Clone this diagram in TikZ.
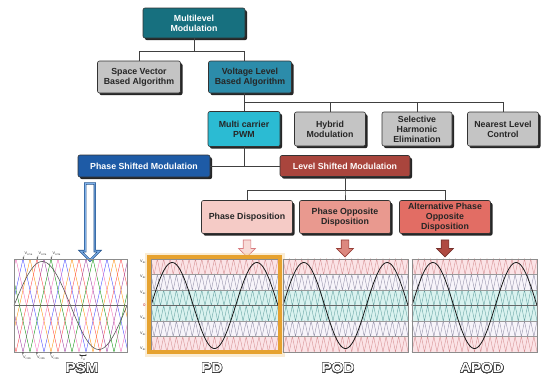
\documentclass[tikz,border=0pt]{standalone}
\usepackage{fontspec}
\setmainfont{Liberation Sans}
\newfontfamily\labfont{Liberation Sans}[FakeStretch=1.12]
\usepackage{contour}
\contourlength{0.45pt}
\contournumber{24}
\usetikzlibrary{arrows.meta,positioning,shapes.arrows,shadows,calc}
\usepackage{xcolor}
\definecolor{mltop}{HTML}{17707F}
\definecolor{vlbox}{HTML}{2C8CAA}
\definecolor{mcbox}{HTML}{2BBBD3}
\definecolor{graybox}{HTML}{C4C4C4}
\definecolor{psmblue}{HTML}{1E5BA6}
\definecolor{psmlight}{HTML}{7FB0E8}
\definecolor{lsmred}{HTML}{A9453D}
\definecolor{pdpink}{HTML}{F5CBC6}
\definecolor{podpink}{HTML}{E9998F}
\definecolor{apodred}{HTML}{E26D64}
\definecolor{framegold}{HTML}{E6A22F}
\definecolor{bandpink}{HTML}{FBE3E6}
\definecolor{bandlav}{HTML}{F7F4FA}
\definecolor{bandcyan}{HTML}{D9F2EF}
\definecolor{tripink}{HTML}{D48A8E}
\definecolor{trilav}{HTML}{8C8AA3}
\definecolor{tricyan}{HTML}{5E9E9E}

% small voltage symbol with subscript
\newcommand{\vsub}[1]{V\raisebox{-0.6pt}{\fontsize{2.6}{3}\selectfont #1}}

\tikzset{
  box/.style={draw=black!80, rounded corners=2pt, line width=0.6pt, align=center, inner sep=1pt,
    font=\fontsize{8.8}{10}\selectfont\bfseries, text=black!85,
    drop shadow={shadow xshift=2pt, shadow yshift=-2.2pt, fill=black!85, opacity=1}},
  conn/.style={draw=black!75, line width=0.7pt},
  downarrow/.style={single arrow, rotate=-90, minimum height=17pt, inner xsep=0pt, inner ysep=3.5pt,
    single arrow head extend=4.5pt, line width=0.7pt},
  carrier/.style={line width=0.35pt},
  levelline/.style={draw=black!40, line width=0.4pt},
  zeroline/.style={draw=black!60, line width=0.6pt},
  sinewave/.style={draw=black!90, line width=0.8pt},
  plotframe/.style={draw=black!45, line width=0.5pt},
  tinylab/.style={font=\fontsize{3.8}{4.5}\selectfont, inner sep=0.3pt, text=black!80},
  tinyarr/.style={-{Stealth[length=1.6pt,width=1.4pt]}, line width=0.3pt, black!80},
  biglabel/.style={font=\labfont\bfseries\fontsize{13.5}{13.5}\selectfont, inner sep=0pt, text=white}
}

% one level shifted panel: left x, width, phase of the six bands
\newcommand{\lspanel}[3]{%
  \foreach \i/\bg/\tc in {0/bandpink/tripink,1/bandlav/trilav,2/bandcyan/tricyan,3/bandcyan/tricyan,4/bandlav/trilav,5/bandpink/tripink}{
    \pgfmathsetmacro\ph{{#3}[\i]}
    \pgfmathsetmacro\ytop{259+15.5*\i}
    \pgfmathsetmacro\ystart{\ph>0 ? \ytop : \ytop+15.5}
    \pgfmathsetmacro\amp{(\ph)*15.5}
    \pgfmathsetmacro\ampn{-1*(\ph)*15.5}
    \fill[\bg] (#1,\ytop) rectangle ++(#2,15.5);
    \draw[carrier,\tc] (#1,\ystart) \foreach \k in {1,...,20}{ -- ++(#2/40,\amp) -- ++(#2/40,\ampn) };
  }
  \foreach \i in {1,2,4,5} \draw[levelline] (#1,{259+15.5*\i}) -- ++(#2,0);
  \draw[zeroline] (#1,305.5) -- ++(#2,0);
  \draw[sinewave] plot[domain=0:#2,samples=90] ({#1+\x},{305.5-43*sin((\x/#2)*540)});
  \draw[plotframe] (#1,259) rectangle ++(#2,93);
}

\begin{document}
\begin{tikzpicture}[x=1pt,y=-1pt]
  \fill[white] (0,0) rectangle (550,383);
  \useasboundingbox (0,0) rectangle (550,383);

  % classification tree
  \node[box, fill=mltop, text=white, minimum width=102pt, minimum height=30pt] (ml) at (194,23) {Multilevel\\Modulation};
  \node[box, fill=graybox, minimum width=83pt, minimum height=32pt] (svb) at (139,77) {Space Vector\\Based Algorithm};
  \node[box, fill=vlbox, minimum width=83pt, minimum height=32pt] (vla) at (250,77) {Voltage Level\\Based Algorithm};
  \node[box, fill=mcbox, minimum width=72pt, minimum height=35pt] (mcp) at (244,129) {Multi carrier\\PWM};
  \node[box, fill=graybox, minimum width=71pt, minimum height=34pt] (hyb) at (330,129) {Hybrid\\Modulation};
  \node[box, fill=graybox, minimum width=70pt, minimum height=34pt] (sel) at (417,129) {Selective\\Harmonic\\Elimination};
  \node[box, fill=graybox, minimum width=71pt, minimum height=34pt] (nlc) at (503,129) {Nearest Level\\Control};
  \node[box, fill=psmblue, text=white, minimum width=132pt, minimum height=22pt] (psm) at (144,166) {Phase Shifted Modulation};
  \node[box, fill=lsmred, text=white!92!pink, minimum width=130pt, minimum height=21pt] (lsm) at (345,166) {Level Shifted Modulation};
  \node[box, fill=pdpink, minimum width=91pt, minimum height=33pt] (pd) at (247,217) {Phase Disposition};
  \node[box, fill=podpink, minimum width=91pt, minimum height=33pt] (pod) at (345,217) {Phase Opposite\\Disposition};
  \node[box, fill=apodred, minimum width=91pt, minimum height=33pt] (apod) at (445,217) {Alternative Phase\\Opposite\\Disposition};

  \draw[conn] (ml.south) -- ++(0,13) -| (svb.north);
  \draw[conn] (ml.south) -- ++(0,13) -| (vla.north -| mcp.north);
  \draw[conn] (vla.south -| mcp.north) -- (mcp.north);
  \foreach \n in {hyb,sel,nlc}
    \draw[conn] (vla.south -| mcp.north) -- ++(0,9) -| (\n.north);
  \draw[conn] (mcp.south) -- (mcp.south |- psm.east);
  \draw[conn] (psm.east) -- (lsm.west);
  \foreach \n in {pd,pod,apod}
    \draw[conn] (lsm.south) -- ++(0,14) -| (\n.north);

  % arrows down to the plots
  \node[single arrow, rotate=-90, minimum height=77pt, inner xsep=0pt, inner ysep=4.5pt,
    single arrow head extend=4.5pt, draw=psmblue!80!black, double=psmlight, double distance=1.1pt,
    line width=0.6pt, fill=white] (psmarr) at (90,219.5) {};
  \node[downarrow, draw=tripink!90!red, fill=pdpink!70!white] (pdarr) at (pd.south |- 0,246.5) {};
  \node[downarrow, draw=lsmred!90!black, fill=podpink!80!lsmred] (podarr) at (pod.south |- 0,246.5) {};
  \node[downarrow, draw=lsmred!70!black, fill=lsmred!90!apodred] (apodarr) at (apod.south |- 0,246.5) {};

  % phase shifted carriers
  \begin{scope}
    \clip (14,259) rectangle ++(113,93);
    \foreach \pk/\c in {23/blue!75,30/orange!90!yellow,37/red!75,44/violet!80,51/green!55!black,58/magenta!60}
      \draw[carrier,\c] (\pk-84,259) \foreach \k in {1,...,7}{ -- ++(21,93) -- ++(21,-93) };
  \end{scope}
  \draw[zeroline] (14,305.5) -- ++(113,0);
  \draw[draw=black!65, line width=0.6pt] plot[domain=0:113,samples=90] ({14+\x},{305.5-44*sin((\x/113)*360)});
  \draw[plotframe] (14,259) rectangle ++(113,93);
  \coordinate (pk1) at (23,259);
  \coordinate (pk2) at (37,259);
  \coordinate (pk3) at (51,259);
  \coordinate (tr1) at (23,352);
  \coordinate (tr2) at (37,352);
  \coordinate (tr3) at (51,352);
  \node[tinylab] (cr1a) at (28.5,253.5) {\vsub{cr1a}};
  \node[tinylab] (cr2a) at (42.5,253.5) {\vsub{cr2a}};
  \node[tinylab] (cr3a) at (56.5,253.5) {\vsub{cr3a}};
  \node[tinylab] (cr1b) at (27,357.5) {\vsub{cr1b}};
  \node[tinylab] (cr2b) at (41,357.5) {\vsub{cr2b}};
  \node[tinylab] (cr3b) at (55,357.5) {\vsub{cr3b}};
  \draw[tinyarr] (cr1a.south west) -- (pk1);
  \draw[tinyarr] (cr2a.south west) -- (pk2);
  \draw[tinyarr] (cr3a.south west) -- (pk3);
  \draw[tinyarr] (cr1b.north west) -- (tr1);
  \draw[tinyarr] (cr2b.north west) -- (tr2);
  \draw[tinyarr] (cr3b.north west) -- (tr3);
  \coordinate (tc1) at (79,355);
  \coordinate (tc2) at (87,355);
  \draw[tinyarr, {Stealth[length=1.6pt,width=1.4pt]}-{Stealth[length=1.6pt,width=1.4pt]}] (tc1) -- (tc2);
  \node[tinylab] (tcr) at (83,359) {T\raisebox{-0.6pt}{\fontsize{2.6}{3}\selectfont cr}};

  % level shifted panels
  \draw[framegold!45, line width=9pt, opacity=0.45] (149,257) rectangle (280,352);
  \lspanel{151}{127}{1,1,1,1,1,1}
  \lspanel{283}{125}{1,1,1,-1,-1,-1}
  \lspanel{412}{125}{1,-1,1,-1,1,-1}
  \draw[framegold, line width=4pt] (149,257) rectangle (280,352);
  \foreach \yy/\t in {262/\vsub{dc},277/\vsub{dc},293/\vsub{dc},305.5/\textcolor{red!70!black}{0},318/\vsub{dc},334/\vsub{dc},349/\vsub{dc}}
    \node[tinylab, anchor=east] at (146,\yy) {\t};

  % panel names
  \node[biglabel] (psmlab) at (82,368.5) {\contour{black!75}{PSM}};
  \node[biglabel] (pdlab) at (212,368.5) {\contour{black!75}{PD}};
  \node[biglabel] (podlab) at (338,368.5) {\contour{black!75}{POD}};
  \node[biglabel] (apodlab) at (482,368.5) {\contour{black!75}{APOD}};
\end{tikzpicture}
\end{document}
